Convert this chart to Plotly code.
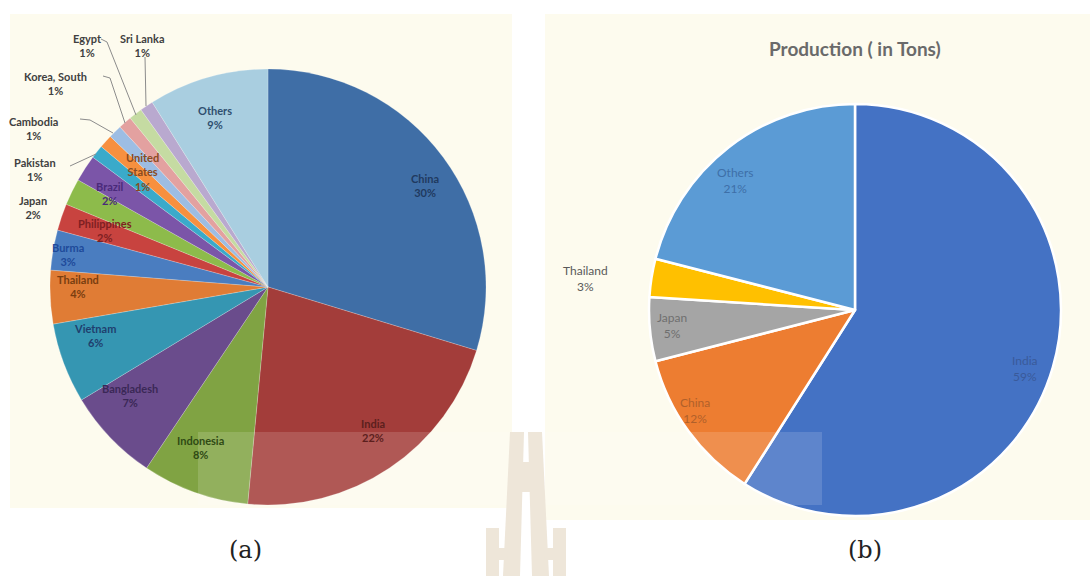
import plotly.graph_objects as go

W, H = 1090, 576

# ---------------- data ----------------
# (a) world share (left pie), clockwise from 12 o'clock
countries_a = ["China", "India", "Indonesia", "Bangladesh", "Vietnam", "Thailand",
               "Burma", "Philippines", "Japan", "Brazil", "Pakistan", "United States",
               "Cambodia", "Korea, South", "Egypt", "Sri Lanka", "Others"]
share_a = [30, 22, 8, 7, 6, 4, 3, 2, 2, 2, 1, 1, 1, 1, 1, 1, 9]

# (b) production (right pie), clockwise from 12 o'clock
countries_b = ["India", "China", "Japan", "Thailand", "Others"]
share_b = [59, 12, 5, 3, 21]
title_b = "Production ( in Tons)"
captions = ["(a)", "(b)"]

# ---------------- styles ----------------
colors_a = ["#3F6EA6", "#A33D3A", "#80A343", "#6A4C8C", "#3596B2", "#E07C35",
            "#4A7DC0", "#C8433F", "#8DBB4B", "#7B55A8", "#3AAACA", "#F7903F",
            "#9DBDE3", "#E3A1A0", "#C5DBA2", "#B9A9CF", "#A9CEE0"]
text_colors_a = ["#1F3A60", "#5C1F1D", "#2F4A14", "#3A2856", "#1F3F6E", "#7A3E10",
                 "#1E4A9A", "#7E1F22", "#404040", "#4A2A7A", "#404040", "#8A4A20",
                 "#404040", "#404040", "#404040", "#404040", "#2F4F6F"]
colors_b = ["#4472C4", "#ED7D31", "#A5A5A5", "#FFC000", "#5B9BD5"]
text_colors_b = ["#3A5A9A", "#B0602A", "#6F6F6F", "#595959", "#3E6FA8"]

# label centres in pixels (positions, kept apart from the data)
label_pos_a = {
    "China": (425, 185), "India": (373, 430), "Indonesia": (200, 447),
    "Bangladesh": (130, 395), "Vietnam": (95, 335), "Thailand": (78, 286),
    "Burma": (68, 255), "Philippines": (105, 230), "Japan": (33, 207),
    "Brazil": (110, 193), "Pakistan": (35, 170), "United States": (142, 172),
    "Cambodia": (33, 128), "Korea, South": (55, 83), "Egypt": (87, 45),
    "Sri Lanka": (142, 45), "Others": (215, 117),
}
label_pos_b = {
    "India": (1025, 368), "China": (695, 410), "Japan": (672, 325),
    "Thailand": (585, 278), "Others": (735, 180),
}
line_break = {"United States": "United<br>States"}

# leader lines for outside labels (pixel polylines)
leaders = [
    [(70, 166), (96, 154)],
    [(80, 119), (90, 120), (113, 133)],
    [(103, 76), (110, 78), (125, 123)],
    [(101, 39), (107, 42), (136, 115)],
    [(145, 57), (146, 106)],
]


def px(x):
    return x / W


def py(y):
    return 1 - y / H


def domain(cx, cy, r):
    return dict(x=[px(cx - r), px(cx + r)], y=[py(cy + r), py(cy - r)])


fig = go.Figure()

fig.add_trace(go.Pie(
    labels=countries_a, values=share_a, sort=False, direction="clockwise",
    rotation=0, textinfo="none", hoverinfo="label+percent",
    marker=dict(colors=colors_a, line=dict(color="rgba(255,255,255,0.35)", width=0.6)),
    domain=domain(268, 287, 218), showlegend=False,
))
fig.add_trace(go.Pie(
    labels=countries_b, values=share_b, sort=False, direction="clockwise",
    rotation=0, textinfo="none", hoverinfo="label+percent",
    marker=dict(colors=colors_b, line=dict(color="#FFFFFF", width=2.5)),
    domain=domain(855, 310, 206), showlegend=False,
))

shapes = []
# panel backgrounds
shapes.append(dict(type="rect", xref="paper", yref="paper", layer="below",
                   x0=px(10), x1=px(512), y0=py(508), y1=py(14),
                   fillcolor="#FDFBEE", line=dict(width=0)))
shapes.append(dict(type="rect", xref="paper", yref="paper", layer="below",
                   x0=px(545), x1=px(1090), y0=py(520), y1=py(14),
                   fillcolor="#FDFBEE", line=dict(width=0)))
# leader lines
for pts in leaders:
    path = "M " + " L ".join(f"{px(x)},{py(y)}" for x, y in pts)
    shapes.append(dict(type="path", xref="paper", yref="paper", path=path,
                       line=dict(color="#8C8C8C", width=1), layer="above"))
# translucent overlay band
shapes.append(dict(type="rect", xref="paper", yref="paper", layer="above",
                   x0=px(198), x1=px(822), y0=py(505), y1=py(432),
                   fillcolor="rgba(255,255,255,0.14)", line=dict(width=0)))
# watermark logo
wm = "#EEE6D9"


def poly(pts):
    return dict(type="path", xref="paper", yref="paper", layer="above",
                path="M " + " L ".join(f"{px(x)},{py(y)}" for x, y in pts) + " Z",
                fillcolor=wm, line=dict(width=0))


shapes.append(poly([(510, 432), (524, 432), (520, 576), (503, 576)]))
shapes.append(poly([(528, 432), (542, 432), (549, 576), (532, 576)]))
shapes.append(poly([(510, 462), (542, 462), (542, 492), (510, 492)]))
shapes.append(poly([(486, 528), (499, 528), (499, 576), (486, 576)]))
shapes.append(poly([(553, 528), (566, 528), (566, 576), (553, 576)]))
shapes.append(poly([(486, 548), (508, 548), (507, 560), (486, 560)]))
shapes.append(poly([(544, 548), (566, 548), (566, 560), (545, 560)]))

annotations = []
for name, val, col in zip(countries_a, share_a, text_colors_a):
    x, y = label_pos_a[name]
    annotations.append(dict(
        x=px(x), y=py(y), xref="paper", yref="paper", showarrow=False,
        text=f"{line_break.get(name, name)}<br>{val}%", align="center",
        xanchor="center", yanchor="middle",
        font=dict(family="Lato", size=11, color=col, weight="bold"),
    ))
for name, val, col in zip(countries_b, share_b, text_colors_b):
    x, y = label_pos_b[name]
    annotations.append(dict(
        x=px(x), y=py(y), xref="paper", yref="paper", showarrow=False,
        text=f"{name}<br>{val}%", align="center",
        xanchor="center", yanchor="middle",
        font=dict(family="Lato", size=12, color=col),
    ))
annotations.append(dict(
    x=px(855), y=py(48), xref="paper", yref="paper", showarrow=False,
    text=title_b, xanchor="center", yanchor="middle",
    font=dict(family="Lato", size=19, color="#6A6A6A", weight="bold"),
))
for cap, cx in zip(captions, [245, 865]):
    annotations.append(dict(
        x=px(cx), y=py(550), xref="paper", yref="paper", showarrow=False,
        text=cap, xanchor="center", yanchor="middle",
        font=dict(family="DejaVu Serif", size=24, color="#222222"),
    ))

fig.update_layout(
    width=W, height=H, margin=dict(l=0, r=0, t=0, b=0),
    paper_bgcolor="#FFFFFF", plot_bgcolor="#FFFFFF",
    shapes=shapes, annotations=annotations, showlegend=False,
)

fig.write_html("out.html")
